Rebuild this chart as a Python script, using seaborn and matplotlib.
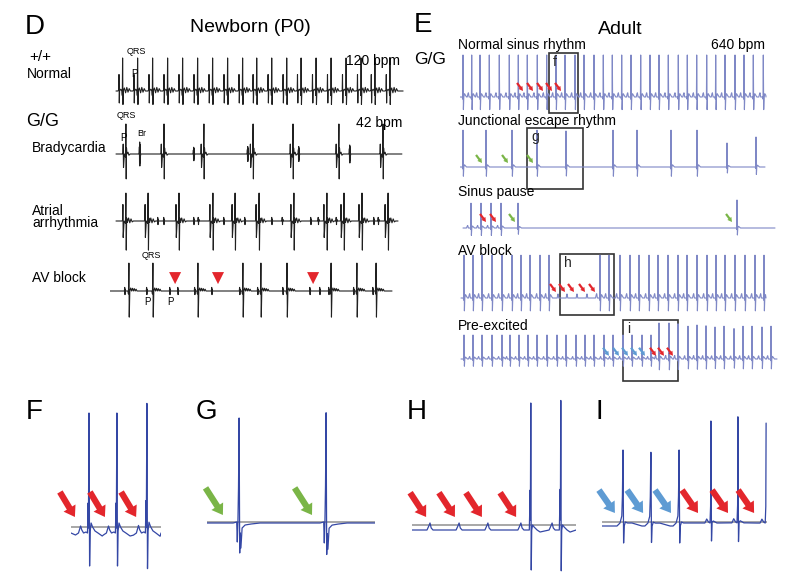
import matplotlib
matplotlib.use("Agg")
import matplotlib.pyplot as plt
import pandas as pd
import seaborn as sns
from matplotlib.patches import Rectangle

sns.set_theme(style="white")
plt.rcParams["font.family"] = ["Liberation Sans", "DejaVu Sans"]

# ======================= DATA =======================
# ---- Panel D: newborn ECG (time in s, amplitude in mV) ----
D_NORMAL_BEATS = [0.22, 0.72, 1.22, 1.72, 2.22, 2.72, 3.22, 3.72, 4.22, 4.69,
                  5.19, 5.69, 6.17, 6.67, 7.17, 7.67, 8.17, 8.63, 9.13]
D_BRADY_BEATS = [0.33, 1.6, 2.93, 4.57, 5.9, 7.43, 8.9]
D_BRADY_BR = [0.8, 2.6, 4.4, 6.1, 7.8]
D_BRADY_BR_AMP = [1.6, 0.9, 1.0, 1.0, 1.2]
D_ATRIAL_BEATS = [0.33, 1.07, 2.1, 3.23, 3.97, 4.77, 5.93, 7.03, 7.6, 8.2, 9.07]
D_ATRIAL_BLIPS = [1.4, 1.6, 2.6, 2.75, 3.6, 4.3, 5.2, 5.55, 6.5, 6.75, 7.35, 8.6, 8.75]
D_AV_BEATS = [0.43, 1.23, 2.73, 4.23, 4.83, 5.7, 7.17, 8.03, 8.67]
D_AV_P = [0.3, 1.03, 1.8, 2.07, 2.63, 3.2, 4.13, 4.73, 5.57, 6.47, 6.8, 7.1, 7.93, 8.57]
D_AV_BLOCKED = [1.97, 3.4, 6.57]

# beat shapes (offset s, mV)
NB_T = [-0.16, -0.13, -0.12, -0.11, -0.10, -0.06, -0.02, -0.01, 0.0, 0.012, 0.025, 0.06, 0.1, 0.14, 0.18, 0.22, 0.26]
NB_V = [0.0, 0.03, 0.55, -0.4, 0.0, 0.06, 0.0, -0.15, 1.1, -0.45, 0.0, 0.1, -0.06, 0.12, -0.04, 0.08, 0.0]
BR_T = [-0.12, -0.1, -0.09, -0.08, -0.05, -0.015, 0.0, 0.01, 0.02, 0.035, 0.07, 0.1, 0.14]
BR_V = [0.0, 0.02, 0.33, -0.45, 0.0, -0.1, 1.0, -0.83, 0.2, 0.0, 0.06, -0.04, 0.0]
BRB_T = [-0.03, -0.02, -0.015, -0.01, -0.005, 0.0, 0.005, 0.01, 0.015, 0.025]
BRB_V = [0.0, 0.15, -0.2, 0.25, -0.25, 0.2, -0.15, 0.1, -0.05, 0.0]
AT_T = [-0.13, -0.11, -0.1, -0.09, -0.06, -0.015, 0.0, 0.012, 0.025, 0.05, 0.09, 0.13, 0.17, 0.21, 0.25]
AT_V = [0.0, 0.03, 0.55, -0.55, 0.0, -0.08, 0.93, -0.97, 0.1, -0.05, 0.1, -0.06, 0.07, -0.03, 0.0]
BLIP_T = [-0.02, -0.01, 0.0, 0.01, 0.02]
BLIP_V = [0.0, 0.12, -0.12, 0.06, 0.0]
AVD_T = [-0.03, -0.015, 0.0, 0.012, 0.03, 0.06, 0.09, 0.12, 0.15, 0.18, 0.21, 0.24, 0.27, 0.3]
AVD_V = [0.0, -0.1, 0.93, -0.87, 0.0, 0.1, 0.0, 0.09, 0.0, 0.08, 0.0, 0.06, 0.0, 0.0]

# ---- Panel E: adult ECG ----
E_NSR_BEATS = [0.0, 0.087, 0.17, 0.263, 0.363, 0.463, 0.553, 0.643, 0.743, 0.837, 0.93,
               1.02, 1.12, 1.21, 1.31, 1.403, 1.493, 1.587, 1.68, 1.777, 1.87, 1.96,
               2.053, 2.153, 2.243, 2.337, 2.437, 2.527, 2.62, 2.72, 2.81, 2.903, 3.003]
E_NSR_ARROWS = [0.6, 0.7, 0.8, 0.89, 0.98]
E_JER_BEATS = [0.0, 0.23, 0.49, 0.74, 1.03, 1.5, 1.74, 2.08, 2.34, 2.64, 2.93]
E_JER_AMP = [0.92, 0.92, 0.92, 0.92, 0.9, 0.92, 0.92, 0.92, 0.92, 0.6, 0.75]
E_JER_ARROWS = [0.19, 0.45, 0.7]
E_SP_SINUS = [0.08, 0.18, 0.28, 0.38]
E_SP_ESCAPE = [0.55, 2.74]
E_SP_RED = [0.23, 0.33]
E_SP_GREEN = [0.52, 2.69]
E_AV_BEATS = [0.01, 0.1, 0.19, 0.29, 0.39, 0.49, 0.58, 0.67, 0.77, 0.86, 1.37, 1.46,
              1.57, 1.67, 1.76, 1.86, 1.95, 2.05, 2.15, 2.24, 2.34, 2.44, 2.53, 2.62,
              2.72, 2.82, 2.92, 3.01]
E_AV_BLOCKED_P = [0.95, 1.04, 1.14, 1.24]
E_AV_ARROWS = [0.93, 1.02, 1.11, 1.22, 1.32]
E_PE_BEATS = [0.01, 0.1, 0.19, 0.29, 0.39, 0.47, 0.56, 0.65, 0.74, 0.84, 0.94, 1.03,
              1.13, 1.22, 1.31, 1.41, 1.5, 1.6, 1.69, 1.79, 1.88, 1.96, 2.06, 2.15,
              2.25, 2.34, 2.43, 2.52, 2.61, 2.71, 2.8, 2.89, 2.99, 3.08]
E_PE_AMP = [0.6, 0.6, 0.6, 0.6, 0.6, 0.6, 0.6, 0.6, 0.6, 0.6, 0.6, 0.6, 0.6, 0.6,
            0.6, 0.6, 0.6, 0.6, 0.6, 0.6, 0.6, 0.9, 0.9, 0.88, 0.82, 0.85, 0.83,
            0.8, 0.82, 0.76, 0.82, 0.82, 0.8, 0.82]
E_PE_BLUE = [1.46, 1.56, 1.65, 1.74, 1.82]
E_PE_RED = [1.93, 2.01, 2.1]
E_T = [-0.045, -0.037, -0.033, -0.026, -0.008, -0.003, 0.0, 0.004, 0.008, 0.015, 0.025, 0.035]
E_V = [0.0, 0.08, 0.1, 0.0, 0.0, -0.05, 1.0, -0.3, 0.0, 0.08, 0.04, 0.0]
EQ_T = [-0.008, -0.003, 0.0, 0.004, 0.008, 0.015, 0.025, 0.035]
EQ_V = [0.0, -0.05, 1.0, -0.25, 0.0, 0.06, 0.03, 0.0]
EP_T = [-0.008, -0.003, 0.0, 0.004, 0.008]
EP_V = [0.0, 0.08, 0.1, 0.05, 0.0]
E_BOXES = {"f": (0.86, 1.15, -0.4, 1.1), "g": (0.64, 1.2, -0.55, 0.975),
           "h": (0.97, 1.51, -0.425, 1.1), "i": (1.6, 2.15, -0.55, 0.975)}

# ---- Panels F-I: zoomed traces ----
F_BEATS = [0.06, 0.153, 0.253]
F_AMP = [1.0, 1.0, 1.08]
F_ARROWS = [0.013, 0.113, 0.217]
F_T = [-0.045, -0.035, -0.028, -0.024, -0.018, -0.01, -0.005, -0.003, -0.0025, -0.002,
       0.0, 0.002, 0.004, 0.007, 0.012, 0.02, 0.03, 0.044]
F_V = [-0.02, 0.0, 0.07, 0.03, 0.0, 0.01, 0.0, 0.3, 0.1, 0.05, 1.2, -0.33, 0.02, 0.1,
       0.06, 0.02, 0.0, -0.03]
G_BEATS = [0.107, 0.397]
G_AMP = [1.0, 1.05]
G_ARROWS = [0.053, 0.35]
G_T = [-0.02, -0.008, -0.006, -0.004, -0.002, 0.0, 0.002, 0.004, 0.006, 0.01, 0.02, 0.04, 0.07]
G_V = [0.0, 0.01, -0.19, 0.0, 0.35, 1.05, -0.3, -0.1, -0.25, -0.05, -0.02, -0.01, 0.0]
H_BEATS = [0.397, 0.497]
H_AMP = [1.0, 1.02]
H_P = [0.06, 0.157, 0.253, 0.363, 0.467]
H_ARROWS = [0.047, 0.143, 0.233, 0.347]
HQ_T = [-0.006, -0.003, -0.0025, -0.001, 0.0005, 0.002, 0.005, 0.01, 0.02, 0.03]
HQ_V = [0.0, 0.4, 0.1, 1.27, -0.4, 0.0, 0.05, 0.03, 0.0, -0.02]
P_T = [-0.01, -0.004, 0.0, 0.004, 0.01]
P_V = [0.0, 0.04, 0.07, 0.02, 0.0]
I_PRE = [0.07, 0.163, 0.257]
I_PRE_AMP = [1.0, 0.97, 1.0]
I_NORM = [0.363, 0.453, 0.547]
I_NORM_AMP = [1.0, 1.04, 0.98]
I_BLUE = [0.043, 0.137, 0.23]
I_RED = [0.32, 0.42, 0.507]
IPE_T = [-0.03, -0.02, -0.01, -0.004, -0.002, 0.0, 0.002, 0.004, 0.008, 0.015, 0.03]
IPE_V = [0.0, 0.0, 0.03, 0.1, 0.3, 0.76, -0.17, 0.0, 0.04, 0.03, 0.03]
INS_T = [-0.03, -0.02, -0.014, -0.008, -0.003, -0.001, 0.0, 0.002, 0.004, 0.008, 0.02, 0.03]
INS_V = [0.03, 0.03, 0.07, 0.04, 0.03, 0.2, 1.05, -0.15, 0.04, 0.05, 0.03, 0.03]
GRAY_LEVEL = {"F": 0.06, "G": 0.01, "H": 0.05, "I": 0.04}

# ======================= STYLE =======================
RED = "#e3262c"
GREEN = "#7ab547"
BLUE_ARROW = "#5e9bd3"
D_COLOR = "#202020"
E_COLOR = "#7f88c6"
FI_COLOR = "#3447a5"
W, H = 800, 581

fig = plt.figure(figsize=(8, 5.81), dpi=100)
fig.patch.set_facecolor("white")


def make_ax(x0_px, base_px, xlim, px_s, px_mv, ylim):
    left = x0_px / W
    width = (xlim[1] - xlim[0]) * px_s / W
    top_px = base_px - ylim[1] * px_mv
    bot_px = base_px - ylim[0] * px_mv
    ax = fig.add_axes([left, 1 - bot_px / H, width, (bot_px - top_px) / H])
    ax.patch.set_alpha(0)
    return ax


def events(times, tt, vv, amps=None):
    if amps is None:
        amps = [1.0] * len(times)
    return [(t, tt, vv, a) for t, a in zip(times, amps)]


def build(t0, t1, evs):
    pts = []
    for bt, tt, vv, sc in evs:
        for dt, v in zip(tt, vv):
            pts.append((bt + dt, v * sc))
    pts.sort(key=lambda p: p[0])
    pts = [p for p in pts if t0 <= p[0] <= t1]
    if not pts or pts[0][0] > t0:
        pts.insert(0, (t0, 0.0))
    if pts[-1][0] < t1:
        pts.append((t1, 0.0))
    return pd.DataFrame(pts, columns=["t", "mV"])


def draw(ax, df, color, lw, xlim, ylim):
    sns.lineplot(data=df, x="t", y="mV", ax=ax, color=color, linewidth=lw,
                 estimator=None, sort=False, legend=False)
    ax.set_xlim(*xlim)
    ax.set_ylim(*ylim)
    ax.set_axis_off()


def ftext(x, y, s, size, ha="left", va="center", **kw):
    fig.text(x / W, 1 - y / H, s, fontsize=size, ha=ha, va=va, color="black", **kw)


def arrows(ax, tips, y, color, dx, dy, ms, hw=1.0, hl=0.75, tw=0.45):
    for t in tips:
        ax.annotate("", xy=(t, y), xytext=(dx, dy), textcoords="offset points",
                    arrowprops=dict(arrowstyle=f"simple,head_width={hw},head_length={hl},tail_width={tw}",
                                    color=color, shrinkA=0, shrinkB=0, mutation_scale=ms,
                                    linewidth=0),
                    annotation_clip=False)


# ======================= PANEL D =======================
DX = (-0.2, 9.7)
DY = (-1.2, 1.3)
ax = make_ax(110, 91, DX, 30, 30, DY)
draw(ax, build(0.0, 9.57, events(D_NORMAL_BEATS, NB_T, NB_V)), D_COLOR, 0.8, DX, DY)

ax = make_ax(110, 154, DX, 30, 30, DY)
draw(ax, build(0.0, 9.53, events(D_BRADY_BEATS, BR_T, BR_V) +
               events(D_BRADY_BR, BRB_T, BRB_V, D_BRADY_BR_AMP)), D_COLOR, 0.8, DX, DY)

ax = make_ax(110, 221, DX, 30, 30, DY)
draw(ax, build(0.0, 9.4, events(D_ATRIAL_BEATS, AT_T, AT_V) +
               events(D_ATRIAL_BLIPS, BLIP_T, BLIP_V)), D_COLOR, 0.8, DX, DY)

ax = make_ax(110, 291, DX, 30, 30, DY)
draw(ax, build(-0.2, 9.2, events(D_AV_BEATS, AVD_T, AVD_V) +
               events(D_AV_P, BLIP_T, BLIP_V)), D_COLOR, 0.8, DX, DY)
sns.scatterplot(x=D_AV_BLOCKED, y=[0.43] * len(D_AV_BLOCKED), ax=ax, marker="v", s=75,
                color=RED, edgecolor="none", legend=False)
ax.set_xlim(*DX); ax.set_ylim(*DY); ax.set_axis_off()

ftext(25, 27, "D", 20)
ftext(250, 27, "Newborn (P0)", 14, ha="center")
ftext(29, 57, "+/+", 11)
ftext(27, 74, "Normal", 10)
ftext(127, 52, "QRS", 6.5)
ftext(131, 74, "P", 7)
ftext(400, 61, "120 bpm", 10, ha="right")
ftext(26, 122, "G/G", 13)
ftext(32, 148, "Bradycardia", 10)
ftext(117, 116, "QRS", 6.5)
ftext(120, 138, "P", 7)
ftext(137, 134, "Br", 6.5)
ftext(402, 123, "42 bpm", 10, ha="right")
ftext(32, 217, "Atrial\narrhythmia", 10, linespacing=0.85)
ftext(32, 278, "AV block", 10)
ftext(142, 256, "QRS", 6.5)
ftext(147, 302, "P", 7, ha="center")
ftext(170, 302, "P", 7, ha="center")

# ======================= PANEL E =======================
EX = (-0.03, 3.17)
EY = (-1.0, 1.5)


def e_ax(base):
    return make_ax(460, base, EX, 100, 40, EY)


def box(ax, key):
    x0, x1, y0, y1 = E_BOXES[key]
    ax.add_patch(Rectangle((x0, y0), x1 - x0, y1 - y0, fill=False, edgecolor="#333333",
                           linewidth=1.2, clip_on=False))
    ax.annotate(key, xy=(x0, y1), xytext=(3, -1.5), textcoords="offset points",
                ha="left", va="top", fontsize=10, annotation_clip=False)


ax = e_ax(97)
draw(ax, build(-0.03, 3.03, events(E_NSR_BEATS, E_T, E_V, [1.05] * len(E_NSR_BEATS))), E_COLOR, 0.8, EX, EY)
arrows(ax, E_NSR_ARROWS, 0.15, RED, -4.3, 5.8, 4, 0.9, 0.8, 0.4)
box(ax, "f")

ax = e_ax(167)
draw(ax, build(-0.03, 3.02, events(E_JER_BEATS, EQ_T, EQ_V, E_JER_AMP)), E_COLOR, 0.8, EX, EY)
arrows(ax, E_JER_ARROWS, 0.1, GREEN, -4.3, 5.8, 4, 0.9, 0.8, 0.4)
box(ax, "g")

ax = e_ax(228)
draw(ax, build(0.0, 3.12, events(E_SP_SINUS, E_T, E_V, [0.62] * 4) +
               events(E_SP_ESCAPE, EQ_T, EQ_V, [0.62, 0.7])), E_COLOR, 0.8, EX, EY)
arrows(ax, E_SP_RED, 0.15, RED, -4.3, 5.8, 4, 0.9, 0.8, 0.4)
arrows(ax, E_SP_GREEN, 0.15, GREEN, -4.3, 5.8, 4, 0.9, 0.8, 0.4)

ax = e_ax(298)
draw(ax, build(-0.02, 3.03, events(E_AV_BEATS, E_T, E_V, [1.07] * len(E_AV_BEATS)) +
               events(E_AV_BLOCKED_P, EP_T, EP_V)), E_COLOR, 0.8, EX, EY)
arrows(ax, E_AV_ARROWS, 0.15, RED, -4.3, 5.8, 4, 0.9, 0.8, 0.4)
box(ax, "h")

ax = e_ax(359)
draw(ax, build(-0.02, 3.14, events(E_PE_BEATS, E_T, E_V, E_PE_AMP)), E_COLOR, 0.8, EX, EY)
arrows(ax, E_PE_BLUE, 0.08, BLUE_ARROW, -4.3, 5.8, 4, 0.9, 0.8, 0.4)
arrows(ax, E_PE_RED, 0.08, RED, -4.3, 5.8, 4, 0.9, 0.8, 0.4)
box(ax, "i")

ftext(414, 25, "E", 20)
ftext(620, 29, "Adult", 14, ha="center")
ftext(414, 59, "G/G", 12.5)
ftext(458, 45, "Normal sinus rhythm", 10)
ftext(765, 45, "640 bpm", 10, ha="right")
ftext(458, 121, "Junctional escape rhythm", 10)
ftext(458, 192, "Sinus pause", 10)
ftext(458, 251, "AV block", 10)
ftext(458, 326, "Pre-excited", 10)

# ======================= PANELS F-I =======================
ZY = (-0.5, 1.4)


def zoom_panel(x0, base, xlim, df, key):
    ax = make_ax(x0, base, xlim, 300, 100, ZY)
    ax.axhline(GRAY_LEVEL[key], color="#a0a0a0", linewidth=1.3, zorder=0)
    draw(ax, df, FI_COLOR, 0.9, xlim, ZY)
    return ax


ax = zoom_panel(71, 533, (0, 0.3), build(0.0, 0.3, events(F_BEATS, F_T, F_V, F_AMP)), "F")
arrows(ax, F_ARROWS, 0.16, RED, -10.8, 18, 10)

ax = zoom_panel(207, 523, (0, 0.56), build(0.0, 0.56, events(G_BEATS, G_T, G_V, G_AMP)), "G")
arrows(ax, G_ARROWS, 0.08, GREEN, -12.5, 19.5, 10)

ax = zoom_panel(412, 530, (0, 0.547), build(0.0, 0.547, events(H_BEATS, HQ_T, HQ_V, H_AMP) +
                                              events(H_P, P_T, P_V)), "H")
arrows(ax, H_ARROWS, 0.13, RED, -11.5, 17.5, 10)

ax = zoom_panel(602, 526, (0, 0.55), build(0.0, 0.547, events(I_PRE, IPE_T, IPE_V, I_PRE_AMP) +
                                             events(I_NORM, INS_T, INS_V, I_NORM_AMP)), "I")
arrows(ax, I_BLUE, 0.13, BLUE_ARROW, -11.5, 16.5, 10)
arrows(ax, I_RED, 0.13, RED, -11.5, 16.5, 10)

ftext(26, 412, "F", 20)
ftext(196, 412, "G", 20)
ftext(407, 412, "H", 20)
ftext(596, 412, "I", 20)

fig.savefig("out.png", dpi=100, facecolor="white")
